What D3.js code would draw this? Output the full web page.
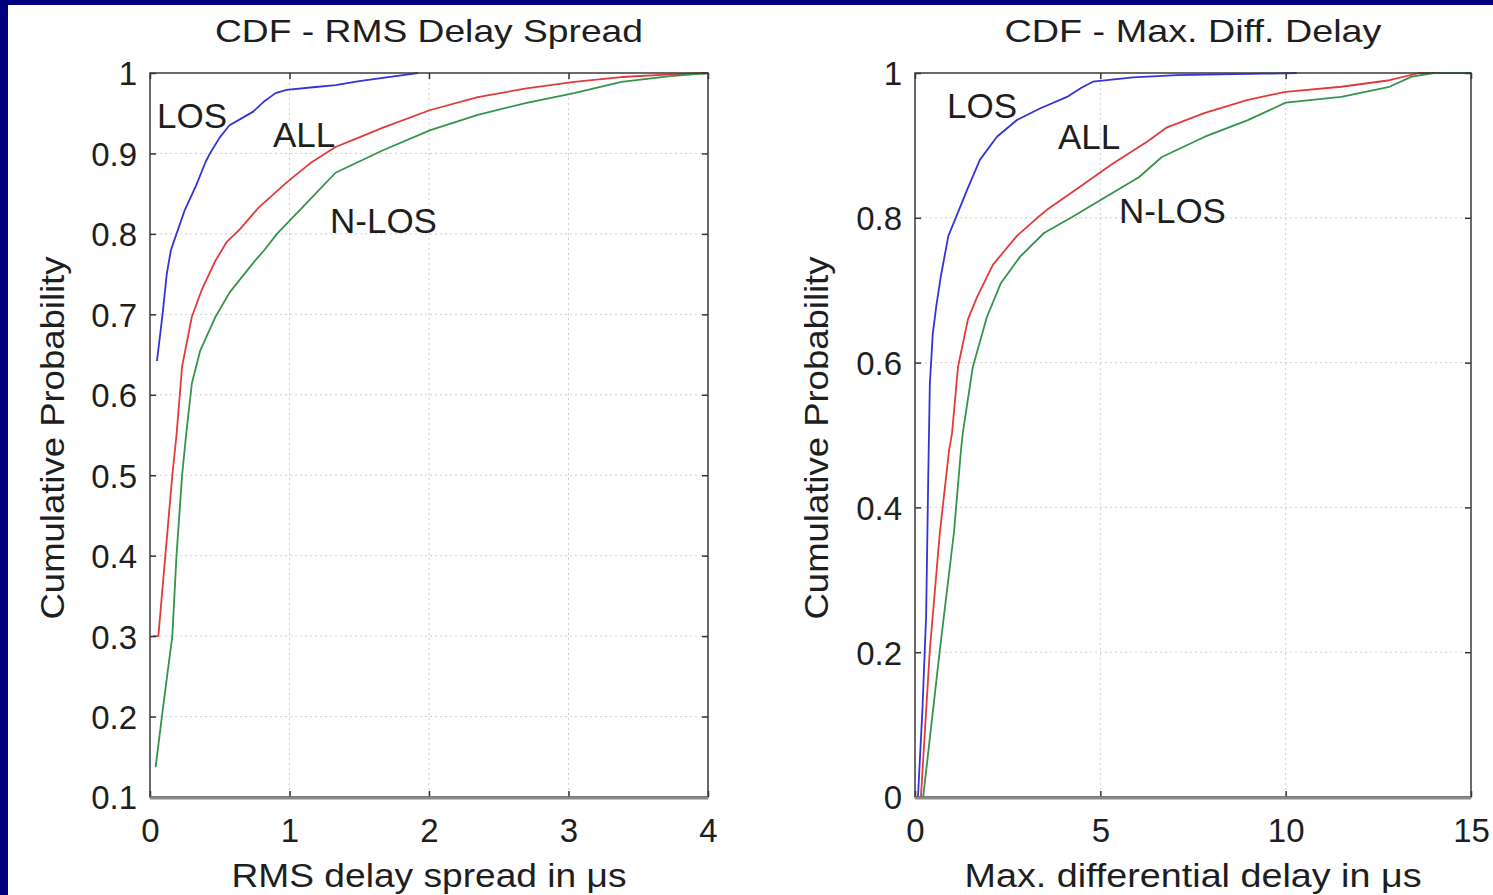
<!DOCTYPE html>
<html><head><meta charset="utf-8">
<script src="https://cdn.jsdelivr.net/npm/d3@7"></script>
<style>
html,body{margin:0;padding:0;background:#fff;overflow:hidden;}
svg{display:block;}
text{font-family:"Liberation Sans",Arial,Helvetica,sans-serif;fill:#1e1e1e;}
</style></head><body>
<svg id="c" width="1493" height="895"></svg>
<script>
// ---------- data ----------
const panelTitles = ["CDF - RMS Delay Spread", "CDF - Max. Diff. Delay"];
const xAxisTitles = ["RMS delay spread in \u03bcs", "Max. differential delay in \u03bcs"];
const yAxisTitle = "Cumulative Probability";
const seriesNames = ["LOS", "ALL", "N-LOS"];

const rmsXTicks = [0, 1, 2, 3, 4];
const rmsXTickLabels = ["0", "1", "2", "3", "4"];
const rmsYTicks = [0.1, 0.2, 0.3, 0.4, 0.5, 0.6, 0.7, 0.8, 0.9, 1];
const rmsYTickLabels = ["0.1", "0.2", "0.3", "0.4", "0.5", "0.6", "0.7", "0.8", "0.9", "1"];

const mddXTicks = [0, 5, 10, 15];
const mddXTickLabels = ["0", "5", "10", "15"];
const mddYTicks = [0, 0.2, 0.4, 0.6, 0.8, 1];
const mddYTickLabels = ["0", "0.2", "0.4", "0.6", "0.8", "1"];

// RMS delay spread CDFs  [x (us), cumulative probability]
const rmsLos = [[0.05,0.642],[0.09,0.70],[0.12,0.75],[0.15,0.78],[0.19,0.80],[0.25,0.83],[0.33,0.86],
  [0.40,0.89],[0.43,0.90],[0.50,0.92],[0.57,0.935],[0.65,0.943],[0.74,0.952],[0.82,0.965],[0.90,0.975],
  [0.98,0.979],[1.15,0.982],[1.33,0.985],[1.50,0.99],[1.67,0.994],[1.84,0.998],[1.92,1.0]];
const rmsAll = [[0.02,0.30],[0.06,0.30],[0.11,0.40],[0.16,0.50],[0.19,0.55],[0.23,0.635],[0.30,0.697],
  [0.37,0.73],[0.47,0.767],[0.55,0.79],[0.64,0.805],[0.78,0.833],[0.98,0.864],[1.15,0.888],[1.33,0.908],
  [1.50,0.92],[1.67,0.932],[2.01,0.954],[2.35,0.97],[2.70,0.981],[3.04,0.989],[3.38,0.995],[3.70,0.998],[4.0,1.0]];
const rmsNlos = [[0.04,0.137],[0.10,0.22],[0.16,0.30],[0.19,0.40],[0.23,0.50],[0.26,0.552],[0.30,0.614],
  [0.36,0.655],[0.47,0.697],[0.57,0.727],[0.74,0.764],[0.82,0.78],[0.91,0.80],[1.12,0.838],[1.33,0.876],
  [1.67,0.904],[2.01,0.929],[2.35,0.948],[2.70,0.963],[3.04,0.975],[3.38,0.989],[3.73,0.996],[4.0,1.0]];

// Max. differential delay CDFs
const mddLos = [[0.08,0.0],[0.20,0.12],[0.30,0.25],[0.36,0.45],[0.40,0.57],[0.48,0.64],[0.58,0.68],
  [0.70,0.72],[0.90,0.775],[1.10,0.80],[1.40,0.838],[1.75,0.88],[2.21,0.912],[2.75,0.935],[3.37,0.951],
  [4.10,0.967],[4.50,0.98],[4.80,0.988],[5.88,0.994],[7.07,0.997],[9.40,0.999],[10.3,1.0]];
const mddAll = [[0.16,0.0],[0.40,0.203],[0.67,0.365],[0.92,0.479],[1.00,0.503],[1.16,0.594],[1.43,0.66],
  [1.67,0.69],[2.10,0.735],[2.75,0.775],[3.30,0.80],[3.56,0.811],[4.45,0.843],[5.34,0.875],[6.26,0.905],
  [6.80,0.925],[7.82,0.945],[8.98,0.963],[10.0,0.974],[11.5,0.981],[12.8,0.99],[13.6,1.0],[15,1.0]];
const mddNlos = [[0.22,0.0],[0.67,0.203],[1.05,0.365],[1.24,0.479],[1.29,0.503],[1.56,0.594],[1.94,0.663],
  [2.32,0.71],[2.83,0.746],[3.48,0.779],[4.24,0.801],[5.02,0.825],[6.04,0.856],[6.66,0.884],[7.82,0.912],
  [8.98,0.935],[10.0,0.959],[11.5,0.967],[12.8,0.981],[13.4,0.995],[14.0,1.0],[15,1.0]];

// ---------- layout ----------
const W = 1493, H = 895;
const colors = ["#3434d6", "#e23a3a", "#34944a"];

const panels = [
  { x0: 150, x1: 708, xDomain: [0, 4], yDomain: [0.1, 1],
    xTicks: rmsXTicks, xLabels: rmsXTickLabels, yTicks: rmsYTicks, yLabels: rmsYTickLabels,
    series: [rmsLos, rmsAll, rmsNlos],
    title: panelTitles[0], titleLen: 428, xTitle: xAxisTitles[0], xTitleLen: 395, yTitleX: 64,
    labels: [[157,128],[273,147],[330,233]] },
  { x0: 915, x1: 1471, xDomain: [0, 15], yDomain: [0, 1],
    xTicks: mddXTicks, xLabels: mddXTickLabels, yTicks: mddYTicks, yLabels: mddYTickLabels,
    series: [mddLos, mddAll, mddNlos],
    title: panelTitles[1], titleLen: 377, xTitle: xAxisTitles[1], xTitleLen: 457, yTitleX: 828,
    labels: [[947,118],[1058,149],[1119,223]] }
];
const yTop = 73, yBot = 797;

const svg = d3.select("#c");
svg.append("rect").attr("width", W).attr("height", H).attr("fill", "#fff");
svg.append("rect").attr("x", 0).attr("y", 0).attr("width", 8).attr("height", H).attr("fill", "#000080");
svg.append("rect").attr("x", 0).attr("y", 0).attr("width", W).attr("height", 5).attr("fill", "#000080");

panels.forEach(p => {
  const x = d3.scaleLinear().domain(p.xDomain).range([p.x0, p.x1]);
  const y = d3.scaleLinear().domain(p.yDomain).range([yBot, yTop]);
  const g = svg.append("g");

  // grid
  g.append("g").selectAll("line").data(p.xTicks.slice(1, -1)).join("line")
    .attr("x1", d => x(d)).attr("x2", d => x(d)).attr("y1", yTop).attr("y2", yBot)
    .attr("stroke", "#cfcfcf").attr("stroke-width", 1).attr("stroke-dasharray", "2,3");
  g.append("g").selectAll("line").data(p.yTicks.slice(1, -1)).join("line")
    .attr("x1", p.x0).attr("x2", p.x1).attr("y1", d => y(d)).attr("y2", d => y(d))
    .attr("stroke", "#cfcfcf").attr("stroke-width", 1).attr("stroke-dasharray", "2,3");

  // curves
  const line = d3.line().x(d => x(d[0])).y(d => y(d[1]));
  p.series.forEach((s, i) => {
    g.append("path").datum(s).attr("d", line).attr("fill", "none")
      .attr("stroke", colors[i]).attr("stroke-width", 1.8).attr("stroke-linejoin", "round");
  });

  // axes (inward ticks)
  const left = d3.axisLeft(y).tickValues(p.yTicks).tickFormat((d, i) => p.yLabels[i]).tickSize(-6).tickPadding(20);
  const right = d3.axisRight(y).tickValues(p.yTicks).tickFormat("").tickSize(-6);
  const bottom = d3.axisBottom(x).tickValues(p.xTicks).tickFormat((d, i) => p.xLabels[i]).tickSize(-6).tickPadding(20);
  const top = d3.axisTop(x).tickValues(p.xTicks).tickFormat("").tickSize(-6);

  const gl = g.append("g").attr("transform", `translate(${p.x0},0)`).call(left);
  const gr = g.append("g").attr("transform", `translate(${p.x1},0)`).call(right);
  const gb = g.append("g").attr("transform", `translate(0,${yBot})`).call(bottom);
  const gt = g.append("g").attr("transform", `translate(0,${yTop})`).call(top);
  [gl, gr, gb, gt].forEach(a => {
    a.select(".domain").remove();
    a.selectAll(".tick line").attr("stroke", "#333").attr("stroke-width", 1.5);
    a.selectAll("text").attr("font-size", 33).attr("fill", "#1e1e1e")
      .style("font-family", '"Liberation Sans",Arial,sans-serif');
  });
  gl.selectAll(".tick text").attr("x", -13).attr("dy", "0.36em");
  gb.selectAll(".tick text").attr("y", 45).attr("dy", 0);

  // box
  g.append("rect").attr("x", p.x0).attr("y", yTop).attr("width", p.x1 - p.x0).attr("height", yBot - yTop)
    .attr("fill", "none").attr("stroke", "#3a3a3a").attr("stroke-width", 1.5);
  g.append("line").attr("x1", p.x0).attr("x2", p.x1).attr("y1", yBot + 1).attr("y2", yBot + 1)
    .attr("stroke", "#8a8a8a").attr("stroke-width", 3);

  // titles
  g.append("text").attr("x", (p.x0 + p.x1) / 2).attr("y", 42).attr("text-anchor", "middle")
    .attr("font-size", 32).attr("textLength", p.titleLen).attr("lengthAdjust", "spacingAndGlyphs").text(p.title);
  g.append("text").attr("x", (p.x0 + p.x1) / 2).attr("y", 887).attr("text-anchor", "middle")
    .attr("font-size", 33).attr("textLength", p.xTitleLen).attr("lengthAdjust", "spacingAndGlyphs").text(p.xTitle);
  g.append("text").attr("transform", `translate(${p.yTitleX},438) rotate(-90)`).attr("text-anchor", "middle")
    .attr("font-size", 34).attr("textLength", 363).attr("lengthAdjust", "spacingAndGlyphs").text(yAxisTitle);

  // series labels
  p.labels.forEach((pos, i) => {
    g.append("text").attr("x", pos[0]).attr("y", pos[1]).attr("font-size", 35).text(seriesNames[i]);
  });
});
</script>
</body></html>
